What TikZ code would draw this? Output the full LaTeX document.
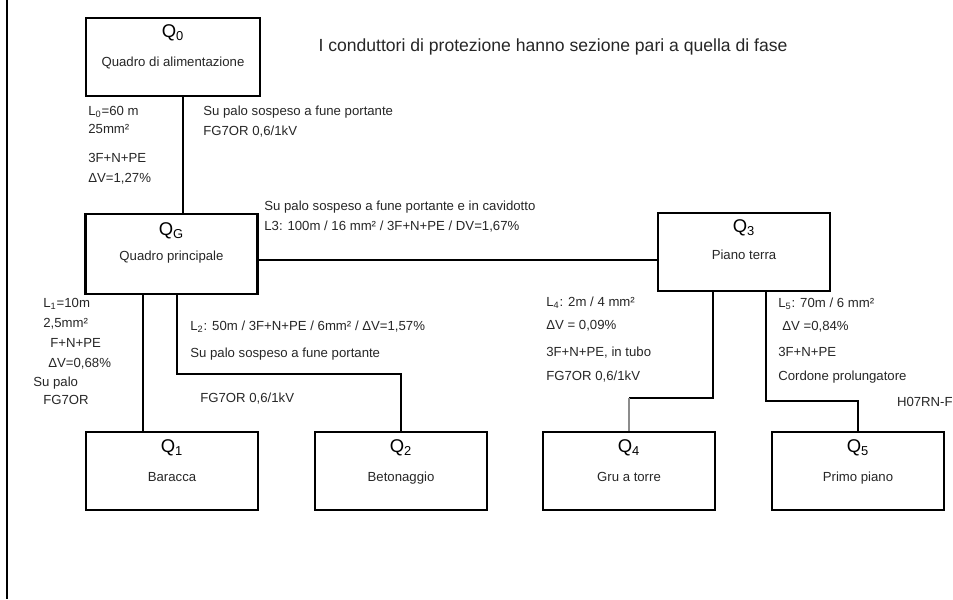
\documentclass[tikz,border=0pt]{standalone}
\usepackage{fontspec}
\setmainfont{Liberation Sans}
\usetikzlibrary{calc}

\tikzset{
  quadro/.style={rectangle,draw=black,line width=1.6pt,minimum width=3.44cm,minimum height=1.56cm,inner sep=0pt},
  sigla/.style={inner sep=0pt,text height=1.6ex,text depth=0.4ex,font=\fontsize{10.5}{12}\selectfont},
  nome/.style={inner sep=0pt,text height=1.6ex,text depth=0.4ex,font=\fontsize{7.5}{9}\selectfont,text=black!85},
  dato/.style={anchor=west,inner sep=0pt,text height=1.6ex,text depth=0.4ex,font=\fontsize{7.5}{9}\selectfont,text=black!85},
  linea/.style={draw=black,line width=0.6pt},
}

\begin{document}
\begin{tikzpicture}[x=0.02cm,y=-0.02cm]

      \useasboundingbox (0,0) rectangle (953,599);
      \draw[line width=1.4pt] (7,0) -- (7,599);

      % quadri
      \node[quadro,minimum width=3.48cm] (Q0) at (173,57){};
      \node[sigla] at ($(Q0.north)+(0,15)$){Q\textsubscript{0}};
      \node[nome] at ($(Q0.north)+(0,44)$){Quadro di alimentazione};

      \node[quadro,minimum height=1.6cm] (QG) at (171.5,254){};
      \node[sigla] at ($(QG.north)+(0,17)$){Q\textsubscript{G}};
      \node[nome] at ($(QG.north)+(0,42)$){Quadro principale};

      \node[quadro] (Q3) at (744,252){};
      \node[sigla] at ($(Q3.north)+(0,15)$){Q\textsubscript{3}};
      \node[nome] at ($(Q3.north)+(0,42)$){Piano terra};

      \node[quadro] (Q1) at (172,471){};
      \node[sigla] at ($(Q1.north)+(0,16)$){Q\textsubscript{1}};
      \node[nome] at ($(Q1.north)+(0,45)$){Baracca};

      \node[quadro] (Q2) at (401,471){};
      \node[sigla] at ($(Q2.north)+(0,16)$){Q\textsubscript{2}};
      \node[nome] at ($(Q2.north)+(0,45)$){Betonaggio};

      \node[quadro] (Q4) at (629,471){};
      \node[sigla] at ($(Q4.north)+(0,16)$){Q\textsubscript{4}};
      \node[nome] at ($(Q4.north)+(0,45)$){Gru a torre};

      \node[quadro] (Q5) at (858,471){};
      \node[sigla] at ($(Q5.north)+(0,16)$){Q\textsubscript{5}};
      \node[nome] at ($(Q5.north)+(0,45)$){Primo piano};

      % punti di piega
      \coordinate (c0) at (183,0);
      \coordinate (c3) at (0,260);
      \coordinate (c1) at (143,0);
      \coordinate (c2) at (177,374);
      \coordinate (c4) at (713,398);
      \coordinate (c5) at (766,401);

      % linee
      \draw[linea] (Q0.south -| c0) -- (QG.north -| c0);
      \draw[linea] (QG.east |- c3) -- (Q3.west |- c3);
      \draw[linea] (QG.south -| c1) -- (Q1.north -| c1);
      \draw[linea] (QG.south -| c2) -- (c2) -| (Q2.north);
      \draw[linea] (Q3.south -| c4) -- (c4) -- (c4 -| Q4.north);
      \draw[linea,draw=black!45] (c4 -| Q4.north) -- (Q4.north);
      \draw[linea] (Q3.south -| c5) -- (c5) -| (Q5.north);

      % testi
      \node[inner sep=0pt,font=\fontsize{10}{12}\selectfont,text=black!85] (nota) at (553,47){I conduttori di protezione hanno sezione pari a quella di fase};

      \node[dato] at (88,110){L\textsubscript{0}=60 m};
      \node[dato] at (88,128){25mm²};
      \node[dato] at (88,157){3F+N+PE};
      \node[dato] at (88,177){ΔV=1,27\%};
      \node[dato] at (203,110){Su palo sospeso a fune portante};
      \node[dato] at (203,130){FG7OR 0,6/1kV};

      \node[dato] at (264,205){Su palo sospeso a fune portante e in cavidotto};
      \node[dato] at (264,225){L3: 100m / 16 mm² / 3F+N+PE / DV=1,67\%};

      \node[dato] at (43,302){L\textsubscript{1}=10m};
      \node[dato] at (43,322){2,5mm²};
      \node[dato] at (50,342){F+N+PE};
      \node[dato] at (48,362){ΔV=0,68\%};
      \node[dato] at (33,381){Su palo};
      \node[dato] at (43,399){FG7OR};

      \node[dato] at (190,325){L\textsubscript{2}: 50m / 3F+N+PE / 6mm² / ΔV=1,57\%};
      \node[dato] at (190,352){Su palo sospeso a fune portante};
      \node[dato] at (200,397){FG7OR 0,6/1kV};

      \node[dato] at (546,301){L\textsubscript{4}: 2m / 4 mm²};
      \node[dato] at (546,324){ΔV = 0,09\%};
      \node[dato] at (546,351){3F+N+PE, in tubo};
      \node[dato] at (546,375){FG7OR 0,6/1kV};

      \node[dato] at (778,302){L\textsubscript{5}: 70m / 6 mm²};
      \node[dato] at (782,325){ΔV =0,84\%};
      \node[dato] at (778,351){3F+N+PE};
      \node[dato] at (778,375){Cordone prolungatore};
      \node[dato,anchor=east] at (953,401){H07RN-F};

    \end{tikzpicture}
\end{document}
